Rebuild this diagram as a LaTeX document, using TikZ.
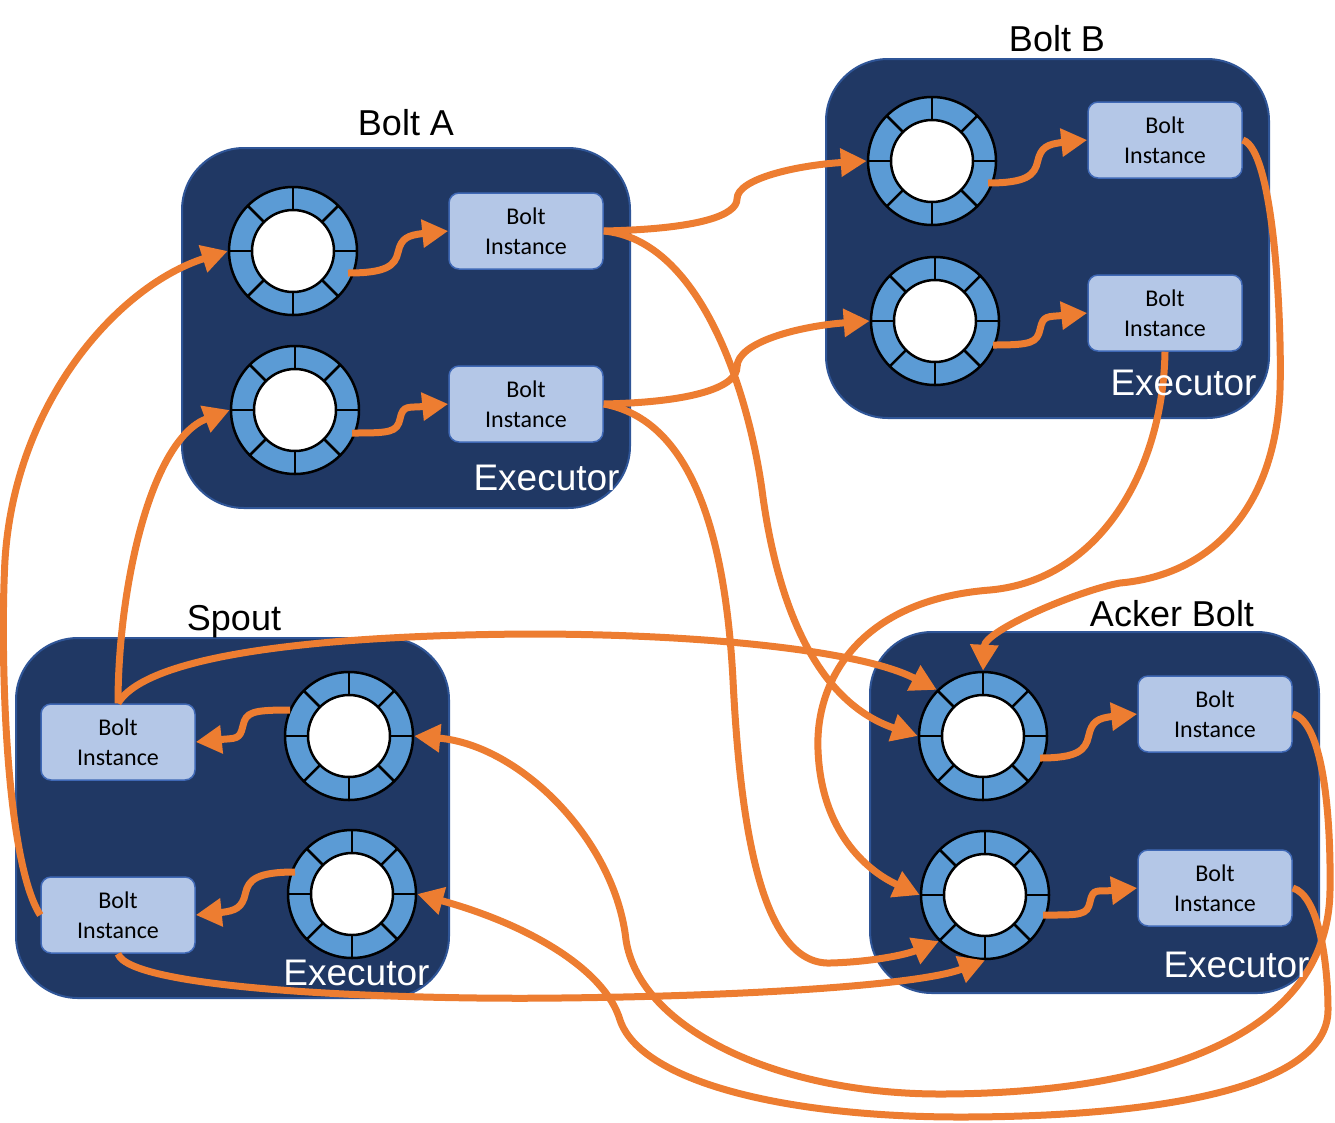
\documentclass[tikz,border=0pt]{standalone}
\usepackage{fontspec}
\setmainfont{Liberation Sans}
\newfontfamily\calib{Carlito}
\usetikzlibrary{arrows.meta,calc}
\definecolor{navy}{HTML}{203864}
\definecolor{navyedge}{HTML}{2F5597}
\definecolor{qblue}{HTML}{5B9BD5}
\definecolor{bblue}{HTML}{B4C7E7}
\definecolor{bedge}{HTML}{3F68B5}
\definecolor{orng}{HTML}{ED7D31}
\tikzset{
  container/.style={draw=navyedge, line width=2pt, fill=navy, rounded corners=62pt, inner sep=0pt},
  ringnode/.style={circle, draw=black, line width=2.5pt, fill=qblue, minimum size=128, inner sep=0pt},
  ringin/.style={circle, draw=black, line width=2.5pt, fill=white, minimum size=82, inner sep=0pt},
  ringdiv/.style={draw=black, line width=2.5pt},
  inst/.style={draw=bedge, line width=1.5pt, fill=bblue, rounded corners=10pt, minimum width=154, minimum height=76, inner sep=0pt, align=center, font=\calib\fontsize{24}{30}\selectfont},
  title/.style={anchor=base, font=\fontsize{36}{40}\selectfont},
  exec/.style={anchor=base, text=white, font=\fontsize{37}{40}\selectfont},
  conn/.style={draw=orng, line width=7pt, -{Triangle[length=26pt,width=27pt]}},
}
\newcommand{\queue}[2]{%
  \node[ringnode] (#1) at (#2) {};
  \node[ringin] (#1in) at (#1.center) {};
  \foreach \a in {0,45,...,315}
    \draw[ringdiv] ($(#1.center)+(\a:41)$) -- ($(#1.center)+(\a:64)$);
}
\newcommand{\sarr}[3]{%
  \pgfmathsetmacro\mysa{#3*38}%
  \pgfmathsetmacro\mysb{#3*3}%
  \pgfmathsetmacro\mysc{#3*14}%
  \pgfmathsetmacro\mysd{#3*40}%
  \pgfmathsetmacro\myse{#3*4}%
  \draw[conn] (#1) .. controls ($(#1)+(\mysa,0)$) and ($(#1)!0.5!(#2)+(-\mysb,\mysc)$) ..
    ($(#1)!0.5!(#2)$) .. controls ($(#1)!0.5!(#2)+(\mysb,-\mysc)$) and ($(#2)+(-\mysd,\myse)$) .. (#2);
}
\begin{document}
\begin{tikzpicture}[x=1pt,y=-1pt]
\useasboundingbox (0,0) rectangle (1335,1122);
% executors
\node[container, minimum width=448, minimum height=360] (exA) at (406,328) {};
\node[container, minimum width=443, minimum height=359] (exB) at (1047.5,238.5) {};
\node[container, minimum width=433, minimum height=360] (exS) at (232.5,818) {};
\node[container, minimum width=449, minimum height=361] (exK) at (1094.5,812.5) {};
% titles
\node[title] (tA) at (406,135) {Bolt A};
\node[title] (tB) at (1057,51) {Bolt B};
\node[title] (tS) at (234,630) {Spout};
\node[title] (tK) at (1172,626) {Acker Bolt};
% queues
\queue{qA1}{293,251}
\queue{qA2}{295,410}
\queue{qB1}{932,161}
\queue{qB2}{935,321}
\queue{qS1}{349,736}
\queue{qS2}{352,894}
\queue{qK1}{983,736}
\queue{qK2}{985,895}
% bolt instances
\node[inst] (bA1) at (526,231) {Bolt\\Instance};
\node[inst] (bA2) at (526,404) {Bolt\\Instance};
\node[inst] (bB1) at (1165,140) {Bolt\\Instance};
\node[inst] (bB2) at (1165,313) {Bolt\\Instance};
\node[inst] (bS1) at (118,742) {Bolt\\Instance};
\node[inst] (bS2) at (118,915) {Bolt\\Instance};
\node[inst] (bK1) at (1215,714) {Bolt\\Instance};
\node[inst] (bK2) at (1215,888) {Bolt\\Instance};
% start points of the short arrows
\coordinate (sA1) at ($(qA1.center)+(55,22)$);
\coordinate (sA2) at ($(qA2.center)+(57,23)$);
\coordinate (sB1) at ($(qB1.center)+(56,22)$);
\coordinate (sB2) at ($(qB2.center)+(58,24)$);
\coordinate (sK1) at ($(qK1.center)+(57,22)$);
\coordinate (sK2) at ($(qK2.center)+(58,20)$);
\coordinate (sS1) at ($(qS1.center)+(-59,-26)$);
\coordinate (sS2) at ($(qS2.center)+(-57,-22)$);
\sarr{sA1}{bA1.west}{1}
\sarr{sA2}{bA2.west}{1}
\sarr{sB1}{bB1.west}{1}
\sarr{sB2}{bB2.west}{1}
\sarr{sK1}{bK1.west}{1}
\sarr{sK2}{bK2.west}{1}
\sarr{sS1}{bS1.east}{-1}
\sarr{sS2}{bS2.east}{-1}
% long connectors
\draw[conn] (bA1.east) .. controls (700,229) and (737,215) .. (737,199) .. controls (737,178) and (800,165) .. (qB1.west);
\draw[conn] (bA2.east) .. controls (700,402) and (737,385) .. (737,367) .. controls (737,342) and (800,326) .. (qB2.west);
\draw[conn] (bA1.east) .. controls (700,240) and (748,390) .. (762,490) .. controls (775,590) and (810,700) .. (qK1.west);
\draw[conn] (bA2.east) .. controls (690,420) and (725,530) .. (733,680) .. controls (740,820) and (760,965) .. (830,963) .. controls (870,962) and (905,955) .. (qK2.225);
\draw[conn] (bS1.north) .. controls (118,590) and (150,440) .. (qA2.west);
\draw[conn] (bS1.north) .. controls (150,650) and (350,635) .. (530,634) .. controls (700,634) and (860,650) .. (qK1.135);
\draw[conn] (bS2.west) .. controls (5,860) and (0,650) .. (5,560) .. controls (15,400) and (120,285) .. (qA1.west);
\draw[conn] (bS2.south) .. controls (130,990) and (400,1000) .. (560,998) .. controls (750,996) and (920,985) .. (qK2.south);
\draw[conn] (bB1.east) .. controls (1275,150) and (1282,330) .. (1280,390) .. controls (1275,510) and (1210,575) .. (1120,583) .. controls (1080,590) and (985,630) .. (qK1.north);
\draw[conn] (bB2.south) .. controls (1163,470) and (1100,580) .. (990,590) .. controls (860,600) and (815,680) .. (818,750) .. controls (821,830) and (865,870) .. (qK2.west);
\draw[conn] (bK1.east) .. controls (1324,722) and (1331,820) .. (1330,890) .. controls (1328,1060) and (1100,1094) .. (940,1094) .. controls (780,1094) and (640,1030) .. (626,940) .. controls (615,840) and (520,745) .. (qS1.east);
\draw[conn] (bK2.east) .. controls (1318,895) and (1328,960) .. (1328,1010) .. controls (1328,1090) and (1150,1117) .. (960,1117) .. controls (780,1117) and (640,1080) .. (620,1020) .. controls (605,970) and (530,925) .. (qS2.east);
% executor labels
\node[exec] (eA) at (546.5,490) {Executor};
\node[exec] (eB) at (1183.5,395) {Executor};
\node[exec] (eS) at (356.5,985) {Executor};
\node[exec] (eK) at (1236.5,977) {Executor};
\end{tikzpicture}
\end{document}
